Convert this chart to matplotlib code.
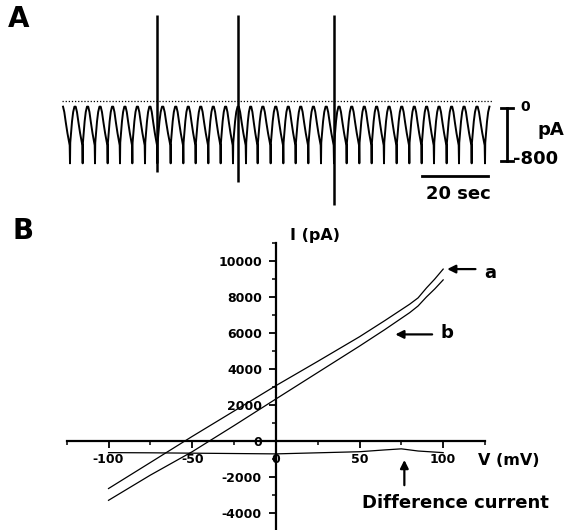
import numpy as np
import matplotlib
matplotlib.use('Agg')
import matplotlib.pyplot as plt
from matplotlib.ticker import MultipleLocator

plt.rcParams['font.family'] = ['DejaVu Sans']
plt.rcParams['font.weight'] = 'bold'
plt.rcParams['axes.unicode_minus'] = False

# ---- panel A: spontaneous current trace (time in s, current in pA) ----
beat_t = [2.4, 6.2, 9.9, 13.7, 17.4, 21.1, 24.9, 28.6, 32.6, 36.4, 40.1, 43.9,
          47.6, 51.3, 55.2, 58.7, 62.6, 66.4, 70.1, 73.9, 77.7, 81.6, 85.4,
          89.2, 92.9, 96.6, 100.4, 104.2, 107.9, 111.6, 115.4, 119.1, 122.9, 126.9]
# one beat cycle (fraction of cycle, pA)
cycle_phase = [0.00, 0.02, 0.08, 0.16, 0.25, 0.35, 0.45, 0.55, 0.67, 0.80, 0.92, 0.975, 1.00]
cycle_pA = [-830, -520, -380, -200, -60, 20, 20, -60, -220, -380, -500, -560, -830]
big_t = [28.6, 52.9, 81.6]
big_top = [1400, 1400, 1400]
big_bottom = [-960, -1110, -1450]
zero_line = 100
trace_end = 128.9

# ---- panel B: I-V relations ----
V = [-100, -75, -50, -25, 0, 25, 50, 65, 80, 85, 90, 95, 100]
I_a = [-2645, -1200, 250, 1660, 3070, 4420, 5790, 6680, 7600, 7950, 8500, 9000, 9550]
I_b = [-3300, -1900, -600, 850, 2330, 3800, 5270, 6180, 7130, 7500, 8000, 8450, 8950]
V_diff = [-100, -75, -50, -25, 0, 25, 50, 65, 75, 85, 95, 100]
I_diff = [-650, -660, -680, -700, -720, -660, -600, -500, -440, -560, -620, -650]

fig = plt.figure(figsize=(5.68, 5.30), dpi=100)

# panel A
axA = fig.add_axes([0, 1 - 230 / 530, 1, 230 / 530])
axA.set_xlim(-18.6, 151.8)
axA.set_ylim(-1830, 1620)
axA.axis('off')

tt, yy = [], []
p0 = beat_t[1] - beat_t[0]
for p, v in zip(cycle_phase, cycle_pA):
    if p >= 0.40:
        tt.append(beat_t[0] - (1 - p) * p0)
        yy.append(v)
for k in range(len(beat_t) - 1):
    per = beat_t[k + 1] - beat_t[k]
    for p, v in zip(cycle_phase[1:], cycle_pA[1:]):
        tt.append(beat_t[k] + p * per)
        yy.append(v)
for p, v in zip(cycle_phase[1:], cycle_pA[1:]):
    if p <= 0.40:
        tt.append(beat_t[-1] + p * p0)
        yy.append(v)
axA.plot(tt, yy, color='black', lw=1.4)
axA.vlines(big_t, big_bottom, big_top, color='black', lw=1.8)
axA.plot([0, trace_end], [zero_line, zero_line], color='black', lw=0.9,
         linestyle=(0, (1, 1.5)))

# scale bars
axA.plot([133.4, 133.4], [0, -800], color='black', lw=2)
axA.plot([131.6, 135.2], [0, 0], color='black', lw=2)
axA.plot([131.6, 135.2], [-800, -800], color='black', lw=2)
axA.plot([107.9, 127.9], [-1017, -1017], color='black', lw=2)
axA.text(138.9, 20, '0', fontsize=10, ha='center', va='center')
axA.text(146.7, -326, 'pA', fontsize=13, ha='center', va='center')
axA.text(142.0, -770, '-800', fontsize=13, ha='center', va='center')
axA.text(118.8, -1288, '20 sec', fontsize=13, ha='center', va='center')

fig.text(19 / 568, 1 - 19 / 530, 'A', fontsize=20, ha='center', va='center')
fig.text(23 / 568, 1 - 231 / 530, 'B', fontsize=20, ha='center', va='center')

# panel B
axB = fig.add_axes([66.7 / 568, 0, 418.3 / 568, 287 / 530])
axB.set_xlim(-125, 125)
axB.set_ylim(-4950, 11000)
for s in ['top', 'right']:
    axB.spines[s].set_visible(False)
axB.spines['left'].set_position(('data', 0))
axB.spines['bottom'].set_position(('data', 0))
axB.spines['left'].set_linewidth(1.6)
axB.spines['bottom'].set_linewidth(1.6)
axB.patch.set_alpha(0)

axB.plot(V, I_a, color='black', lw=0.9)
axB.plot(V, I_b, color='black', lw=0.9)
axB.plot(V_diff, I_diff, color='black', lw=0.9)

axB.set_xticks([-100, -50, 0, 50, 100])
axB.xaxis.set_minor_locator(MultipleLocator(25))
axB.set_yticks([-4000, -2000, 0, 2000, 4000, 6000, 8000, 10000])
axB.yaxis.set_minor_locator(MultipleLocator(1000))
axB.tick_params(which='major', direction='out', length=5, width=1.3, labelsize=9)
axB.tick_params(which='minor', direction='out', length=3, width=1.1)
axB.tick_params(axis='x', pad=4)
axB.tick_params(axis='y', pad=5)

axB.text(8.6, 11400, 'I (pA)', fontsize=11.5, ha='left', va='center', clip_on=False)
axB.text(121, -1060, 'V (mV)', fontsize=11.5, ha='left', va='center', clip_on=False)

arrow = dict(arrowstyle='-|>', color='black', lw=1.6, mutation_scale=12,
             shrinkA=0, shrinkB=0)
axB.annotate('', xy=(102.4, 9550), xytext=(119.3, 9550), arrowprops=arrow,
             annotation_clip=False)
axB.text(128.3, 9330, 'a', fontsize=13, ha='center', va='center', clip_on=False)
axB.annotate('', xy=(71.4, 5920), xytext=(93.4, 5920), arrowprops=arrow,
             annotation_clip=False)
axB.text(102.4, 6000, 'b', fontsize=13, ha='center', va='center', clip_on=False)
axB.annotate('', xy=(76.8, -1060), xytext=(76.8, -2460), arrowprops=arrow,
             annotation_clip=False)
axB.text(51.5, -3460, 'Difference current', fontsize=13, ha='left', va='center',
         clip_on=False)

fig.savefig('out.png', dpi=100)
